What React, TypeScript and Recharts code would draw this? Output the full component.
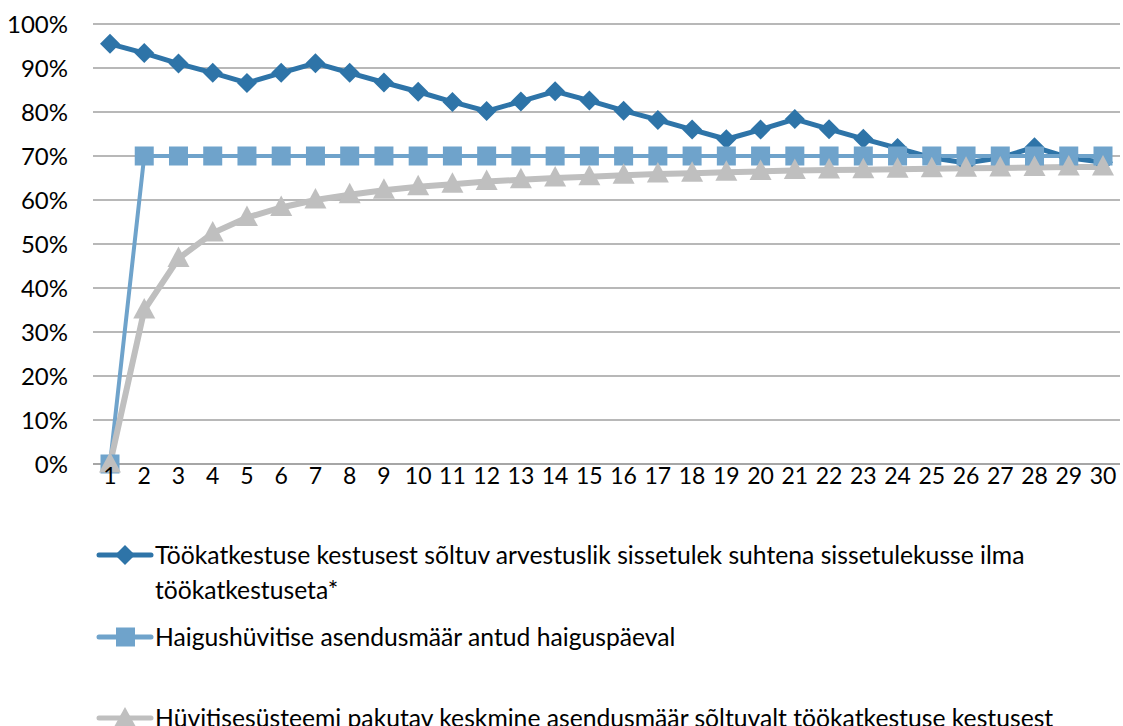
import React from 'react';
import { LineChart, Line, XAxis, YAxis, CartesianGrid, Legend } from 'recharts';

const days = [1, 2, 3, 4, 5, 6, 7, 8, 9, 10, 11, 12, 13, 14, 15, 16, 17, 18, 19, 20, 21, 22, 23, 24, 25, 26, 27, 28, 29, 30];

const incomeRatio = [95.5, 93.4, 91.0, 88.9, 86.6, 88.9, 91.1, 88.9, 86.7, 84.6, 82.3, 80.2, 82.4, 84.7, 82.6, 80.3, 78.2, 76.0, 73.8, 76.0, 78.4, 76.1, 73.9, 71.8, 69.6, 68.4, 69.6, 72.0, 69.6, 68.6];
const sickRate = [0, 70, 70, 70, 70, 70, 70, 70, 70, 70, 70, 70, 70, 70, 70, 70, 70, 70, 70, 70, 70, 70, 70, 70, 70, 70, 70, 70, 70, 70];
const avgRate = [0, 35.0, 46.7, 52.5, 56.0, 58.3, 60.0, 61.2, 62.2, 63.0, 63.6, 64.2, 64.6, 65.0, 65.3, 65.6, 65.9, 66.1, 66.3, 66.5, 66.7, 66.8, 66.9, 67.0, 67.1, 67.2, 67.3, 67.4, 67.5, 67.5];

const yTicks = [0, 10, 20, 30, 40, 50, 60, 70, 80, 90, 100];

const seriesNames = [
  'Töökatkestuse kestusest sõltuv arvestuslik sissetulek suhtena sissetulekusse ilma töökatkestuseta*',
  'Haigushüvitise asendusmäär antud haiguspäeval',
  'Hüvitisesüsteemi pakutav keskmine asendusmäär sõltuvalt töökatkestuse kestusest',
];
const seriesColors = ['#2E74A8', '#6FA3CB', '#BFBFBF'];
const seriesKeys = ['income', 'sick', 'avg'];

const data = days.map((d, i) => ({
  day: d,
  income: incomeRatio[i],
  sick: sickRate[i],
  avg: avgRate[i],
}));

const FONT = 'Lato, "Open Sans", sans-serif';

const Diamond = (props: any) => {
  const { cx, cy, fill } = props;
  if (cx == null || cy == null) return null;
  const r = 10;
  return <path d={`M${cx},${cy - r} L${cx + r},${cy} L${cx},${cy + r} L${cx - r},${cy} Z`} fill={fill} />;
};

const Square = (props: any) => {
  const { cx, cy, fill } = props;
  if (cx == null || cy == null) return null;
  const s = 9.5;
  return <rect x={cx - s} y={cy - s} width={s * 2} height={s * 2} fill={fill} />;
};

const Triangle = (props: any) => {
  const { cx, cy, fill } = props;
  if (cx == null || cy == null) return null;
  const w = 11;
  return <path d={`M${cx},${cy - 12} L${cx + w},${cy + 8.5} L${cx - w},${cy + 8.5} Z`} fill={fill} />;
};

const markerIcon = (i: number, color: string) => {
  if (i === 0) return <path d="M28,-10 L38,0 L28,10 L18,0 Z" fill={color} />;
  if (i === 1) return <rect x={19} y={-9.5} width={19} height={19} fill={color} />;
  return <path d="M28,-11 L38.5,8 L17.5,8 Z" fill={color} />;
};

const LegendBox = () => (
  <div style={{ height: 230, position: 'relative', fontFamily: FONT, fontSize: 24.7, color: '#000' }}>
    {seriesNames.map((name, i) => (
      <div
        key={name}
        style={{ position: 'absolute', left: 97, top: [43, 125, 206][i], display: 'flex', alignItems: 'flex-start' }}
      >
        <svg width={58} height={24} style={{ overflow: 'visible', marginTop: 4 }}>
          <g transform="translate(0,12)">
            <line x1={2} y1={0} x2={54} y2={0} stroke={seriesColors[i]} strokeWidth={5} strokeLinecap="round" />
            {markerIcon(i, seriesColors[i])}
          </g>
        </svg>
        <div style={{ width: 962, lineHeight: '35px', marginTop: -2 }}>{name}</div>
      </div>
    ))}
  </div>
);

export default function App() {
  return (
    <div style={{ position: 'absolute', left: 0, top: 0, width: 1123, height: 726, background: '#fff', overflow: 'hidden' }}>
      <LineChart width={1123} height={726} data={data} margin={{ top: 24, right: 3, left: 0, bottom: 0 }}>
        <CartesianGrid vertical={false} stroke="#A0A0A0" strokeWidth={1.5} />
        <XAxis
          dataKey="day"
          padding={{ left: 17, right: 17 }}
          height={32}
          tickLine={false}
          tickSize={0}
          tickMargin={4}
          axisLine={{ stroke: '#A0A0A0', strokeWidth: 1.5 }}
          tick={{ fontSize: 23, fill: '#000', fontFamily: FONT }}
          interval={0}
        />
        <YAxis
          width={93}
          domain={[0, 100]}
          ticks={yTicks}
          tickFormatter={(v: number) => `${v}%`}
          axisLine={false}
          tickLine={false}
          tickSize={0}
          tickMargin={25}
          tick={{ fontSize: 24, fill: '#000', fontFamily: FONT }}
        />
        <Legend verticalAlign="bottom" content={() => <LegendBox />} wrapperStyle={{ left: 0, width: 1123 }} />
        <Line
          dataKey={seriesKeys[0]}
          stroke={seriesColors[0]}
          strokeWidth={5}
          dot={<Diamond fill={seriesColors[0]} />}
          isAnimationActive={false}
        />
        <Line
          dataKey={seriesKeys[1]}
          stroke={seriesColors[1]}
          strokeWidth={4}
          dot={<Square fill={seriesColors[1]} />}
          isAnimationActive={false}
        />
        <Line
          dataKey={seriesKeys[2]}
          stroke={seriesColors[2]}
          strokeWidth={6}
          dot={<Triangle fill={seriesColors[2]} />}
          isAnimationActive={false}
        />
      </LineChart>
    </div>
  );
}
